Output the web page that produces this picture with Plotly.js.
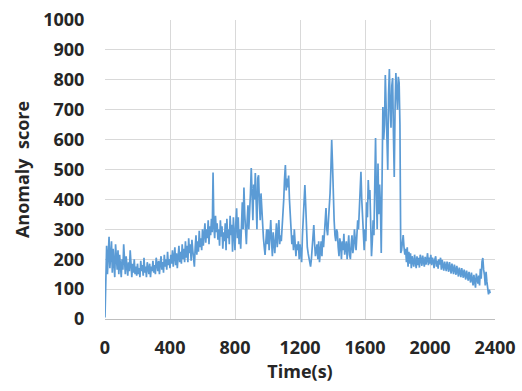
<!DOCTYPE html>
<html>
<head>
<meta charset="utf-8">
<script src="https://cdn.plot.ly/plotly-3.0.1.min.js"></script>
<style>html,body{margin:0;padding:0;background:#fff;}#chart{width:522px;height:391px;}</style>
</head>
<body>
<div id="chart"></div>
<script>
// Time axis: one reading every 5 s, starting at 0 s
const timeStart = 0;
const timeStep = 5;
// Anomaly score readings, 400 s per block
const seg0000 = [5,180,245,150,230,275,170,210,260,155,235,190,140,250,205,165,230,150,215,180,
  140,200,165,250,185,150,210,170,145,190,160,230,175,140,185,155,200,150,175,145,
  185,150,170,140,195,160,180,145,205,155,175,140,190,165,150,185,140,175,160,195,
  155,180,150,205,170,160,195,150,185,210,165,190,155,215,175,200,165,225,180,200];
const seg0400 = [170,215,185,230,175,200,240,180,220,170,205,245,190,225,185,250,200,235,190,260,
  205,245,190,270,220,250,195,265,230,210,175,240,280,215,260,225,295,240,270,230,
  300,245,285,320,255,300,270,330,250,310,280,335,290,490,310,270,345,290,320,265,
  300,245,330,275,310,235,290,260,320,230,335,270,300,250,345,280,315,225,340,265];
const seg0800 = [230,320,370,270,340,250,300,235,360,390,300,440,350,280,250,330,380,300,345,420,
  505,380,330,450,400,488,350,300,470,481,390,330,420,360,300,270,240,214,260,300,
  250,300,230,280,331,260,210,290,250,220,270,320,240,300,331,250,280,260,300,350,
  400,470,515,430,470,440,480,400,360,300,250,280,230,300,260,210,250,230,260,200];
const seg1200 = [250,220,190,280,330,400,448,380,300,240,220,200,185,175,200,230,260,314,250,210,
  230,250,200,260,190,240,260,210,280,240,290,330,371,300,280,330,370,420,500,599,
  520,400,330,280,260,300,290,240,210,270,250,200,260,230,285,215,250,260,200,240,
  280,215,200,250,280,220,240,300,260,230,280,330,300,380,440,492,400,350,260,230];
const seg1600 = [300,260,390,340,465,400,431,300,210,260,330,280,440,605,420,300,520,350,450,380,
  221,550,709,600,650,816,700,560,498,750,836,700,640,780,806,620,475,700,823,760,
  700,810,790,650,221,230,250,281,240,215,235,190,240,175,225,185,220,170,210,190,
  175,215,185,170,210,180,205,172,215,185,178,212,190,175,208,182,198,220,180,205];
const seg2000 = [185,215,180,205,195,170,200,210,175,195,168,200,182,205,165,198,178,162,192,172,
  160,192,170,158,190,165,152,185,168,150,182,160,148,178,155,142,172,152,140,170,
  150,138,165,145,132,162,142,128,158,140,122,155,135,112,148,128,105,152,132,118,
  145,112,168,135,192,204,165,148,112,158,125,95,82,98,86];
const yTicks = [0,100,200,300,400,500,600,700,800,900,1000];
const xTicks = [0,400,800,1200,1600,2000,2400];

const scores = [].concat(seg0000, seg0400, seg0800, seg1200, seg1600, seg2000);
const times = scores.map((_, i) => timeStart + i * timeStep);

const font = {family: '"Open Sans", sans-serif', size: 18, color: '#262626', weight: 'bold'};

Plotly.newPlot('chart', [{
  x: times, y: scores, type: 'scatter', mode: 'lines',
  line: {color: '#5B9BD5', width: 1.7},
  hoverinfo: 'skip'
}], {
  width: 522, height: 391,
  margin: {l: 105, r: 27, t: 20, b: 72},
  paper_bgcolor: '#fff', plot_bgcolor: '#fff',
  showlegend: false,
  font: font,
  xaxis: {
    range: [0, 2400], tickvals: xTicks, ticktext: xTicks.map(String),
    showgrid: true, gridcolor: '#d9d9d9', gridwidth: 1,
    zeroline: false, showline: true, linecolor: '#bfbfbf', linewidth: 1,
    ticks: 'outside', ticklen: 12, tickcolor: 'rgba(0,0,0,0)',
    tickfont: font,
    title: {text: 'Time(s)', font: font, standoff: 6}
  },
  yaxis: {
    range: [0, 1000], tickvals: yTicks, ticktext: yTicks.map(String),
    showgrid: true, gridcolor: '#d9d9d9', gridwidth: 1,
    zeroline: false, showline: false,
    ticks: 'outside', ticklen: 16, tickcolor: 'rgba(0,0,0,0)',
    tickfont: font,
    title: {text: 'Anomaly\u00a0 score', font: font, standoff: 8}
  }
}, {staticPlot: true});
</script>
</body>
</html>
